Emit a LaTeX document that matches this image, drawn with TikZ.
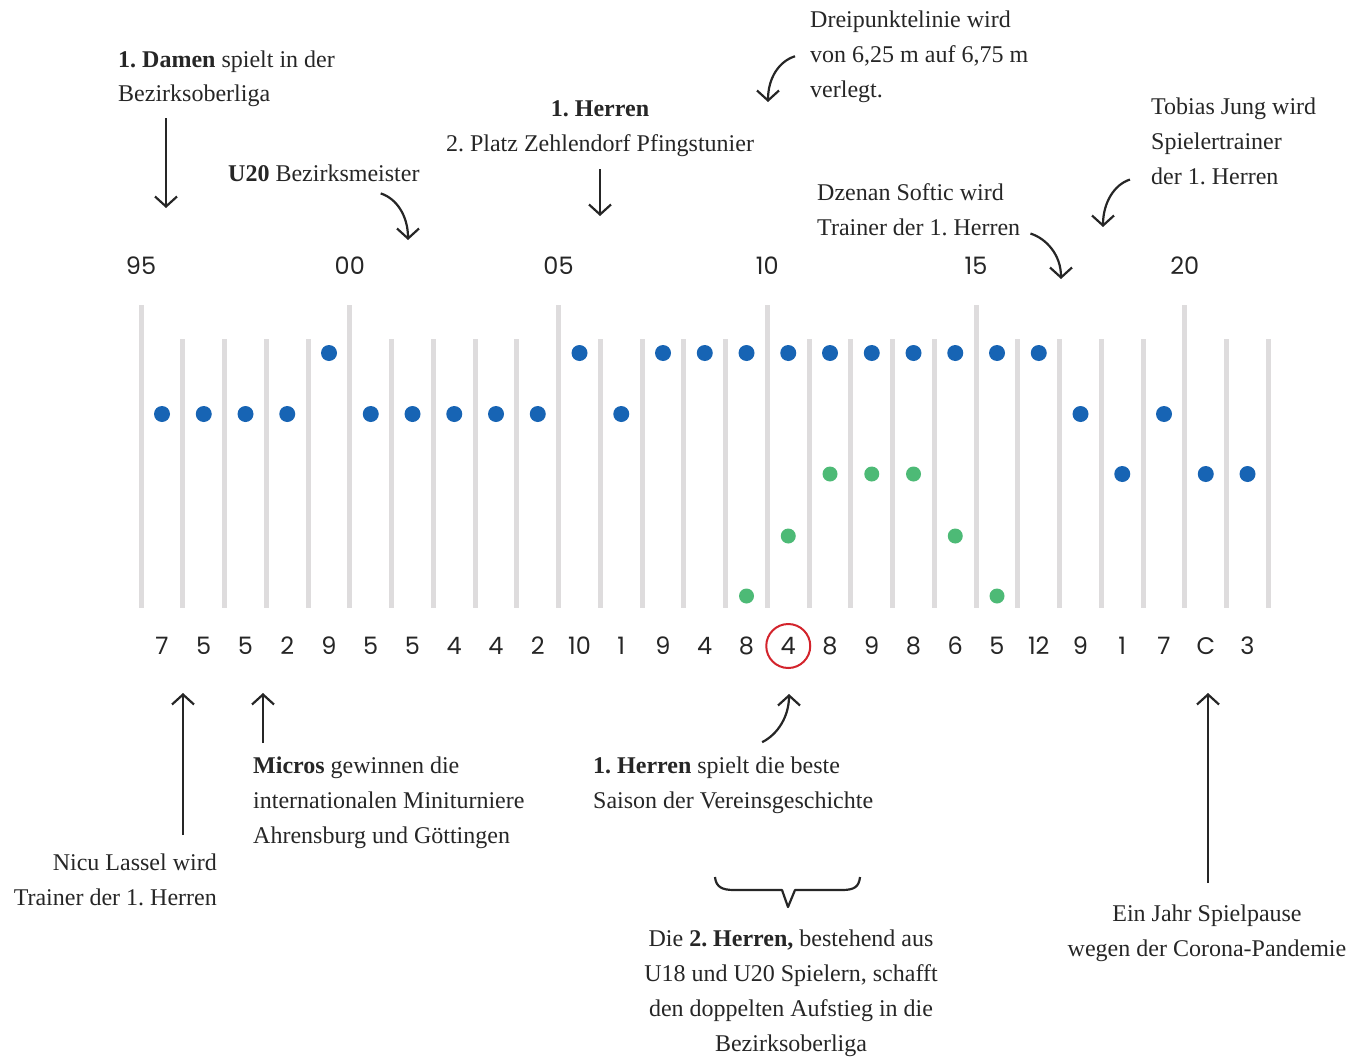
\documentclass[tikz,border=0pt]{standalone}
\usepackage{fontspec}
\setmainfont{Liberation Serif}
\newfontfamily\numfont{Poppins}
\frenchspacing
\usetikzlibrary{arrows.meta, positioning}
\definecolor{tlblue}{HTML}{1764B4}
\definecolor{tlgreen}{HTML}{4DBA76}
\definecolor{tlgray}{HTML}{DEDCDD}
\definecolor{tlink}{HTML}{262626}
\definecolor{tlred}{HTML}{D3242C}

\begin{document}
\begin{tikzpicture}[x=1pt, y=-1pt,
    note/.style={font=\fontsize{24}{35}\selectfont, text=tlink, inner sep=0pt},
    yearlbl/.style={font=\numfont\fontsize{24}{24}\selectfont, text=tlink},
    count/.style={font=\numfont\fontsize{24}{24}\selectfont, text=tlink},
    season/.style={line width=5pt, draw=tlgray},
    bdot/.style={circle, fill=tlblue, minimum size=16pt, inner sep=0pt},
    gdot/.style={circle, fill=tlgreen, minimum size=15pt, inner sep=0pt},
    arrow/.style={-{Straight Barb[length=10pt, width=22pt]}, line width=2.2pt, draw=tlink}
]
\useasboundingbox (0,0) rectangle (1360,1057);

% Season lines, taller every five years
\foreach \i in {1,2,3,4,6,7,8,9,11,12,13,14,16,17,18,19,21,22,23,24,26,27}
    \draw[season] (141+41.75*\i,339) -- (141+41.75*\i,608);
\foreach \i in {0,5,10,15,20,25}
    \draw[season] (141+41.75*\i,305) -- (141+41.75*\i,608);

% Years
\foreach \i/\yr in {0/95,5/00,10/05,15/10,20/15,25/20}
    \node[yearlbl] (y\yr) at (141+41.75*\i,266) {\yr};

% 1. Herren (blue)
\foreach \i/\r in {0/414,1/414,2/414,3/414,4/353,5/414,6/414,7/414,8/414,9/414,
    10/353,11/414,12/353,13/353,14/353,15/353,16/353,17/353,18/353,19/353,20/353,
    21/353,22/414,23/474,24/414,25/474,26/474}
    \node[bdot] (b\i) at (162+41.75*\i,\r) {};

% 2. Herren (green)
\foreach \i/\r in {14/596,15/536,16/474,17/474,18/474,19/536,20/596}
    \node[gdot] (g\i) at (162+41.75*\i,\r) {};

% Final placings
\foreach \v [count=\i from 0] in {7,5,5,2,9,5,5,4,4,2,10,1,9,4,8,4,8,9,8,6,5,12,9,1,7,C,3}
    \node[count] (n\i) at (162+41.75*\i,646) {\v};
\node[circle, draw=tlred, line width=2pt, minimum size=44pt] (best) at (n15) {};

% Notes above (base = last line)
\node[note, anchor=base west, align=left] (damen) at (118,102)
    {\textbf{1. Damen} spielt in der\\Bezirksoberliga};
\node[note, anchor=base west] (uzwanzig) at (228,181) {\textbf{U20} Bezirksmeister};
\node[note, anchor=base, align=center] (herren) at (600,151)
    {\textbf{1. Herren}\\2. Platz Zehlendorf Pfingstunier};
\node[note, anchor=base west, align=left] (dreipunkt) at (810,97)
    {Dreipunktelinie wird\\von 6,25 m auf 6,75 m\\verlegt.};
\node[note, anchor=base west, align=left] (softic) at (817,235)
    {Dzenan Softic wird\\Trainer der 1. Herren};
\node[note, anchor=base west, align=left] (jung) at (1151,184)
    {Tobias Jung wird\\Spielertrainer\\der 1. Herren};

% Notes below
\node[note, anchor=base east, align=right] (lassel) at (217,905)
    {Nicu Lassel wird\\Trainer der 1. Herren};
\node[note, anchor=base west, align=left] (micros) at (253,843)
    {\textbf{Micros} gewinnen die\\internationalen Miniturniere\\Ahrensburg und Göttingen};
\node[note, anchor=base west, align=left] (saison) at (593,808)
    {\textbf{1. Herren} spielt die beste\\Saison der Vereinsgeschichte};
\node[note, anchor=base, align=center] (zweite) at (791,1051)
    {Die \textbf{2. Herren,} bestehend aus\\U18 und U20 Spielern, schafft\\den doppelten Aufstieg in die\\Bezirksoberliga};
\node[note, anchor=base, align=center] (corona) at (1207,956)
    {Ein Jahr Spielpause\\wegen der Corona-Pandemie};

% Arrow targets
\coordinate (damenTip) at (166,208);
\coordinate (uzTip) at (408,240);
\coordinate (herrenTip) at (600,216);
\coordinate (dreiTip) at (768,102);
\coordinate (softicTip) at (1061,279);
\coordinate (jungTip) at (1103,227);
\coordinate (lasselTip) at (183,693);
\coordinate (microsTip) at (263,693);
\coordinate (saisonTip) at (789,694);
\coordinate (coronaTip) at (1208,693);

% Arrows
\draw[arrow, shorten <=11pt] (damen.south -| damenTip) -- (damenTip);
\draw[arrow] ([xshift=-39pt, yshift=-12pt]uzwanzig.south east) .. controls +(16,5) and +(0,-24) .. (uzTip);
\draw[arrow, shorten <=13pt] (herren.south -| herrenTip) -- (herrenTip);
\draw[arrow] ([xshift=-15pt]dreipunkt.west) .. controls +(-16,5) and +(0,-24) .. (dreiTip);
\draw[arrow] ([xshift=10pt, yshift=2pt]softic.south east) .. controls +(16,5) and +(0,-24) .. (softicTip);
\draw[arrow] ([xshift=-21pt, yshift=5pt]jung.south west) .. controls +(-16,5) and +(0,-24) .. (jungTip);
\draw[arrow, shorten <=18pt] (lassel.north -| lasselTip) -- (lasselTip);
\draw[arrow, shorten <=13pt] (micros.north -| microsTip) -- (microsTip);
\draw[arrow] ([xshift=29pt, yshift=14pt]saison.north) .. controls +(16,-8) and +(0,22) .. (saisonTip);
\draw[arrow, shorten <=21pt] (corona.north -| coronaTip) -- (coronaTip);

% Brace over the 2. Herren note
\draw[line width=2.2pt, draw=tlink, line join=round]
    (715,877) .. controls (716,887) and (722,890) .. (734,890) -- (782,890)
    -- (788,907) -- (795,890) -- (842,890) .. controls (854,890) and (859,887) .. (860,877);

\end{tikzpicture}
\end{document}
